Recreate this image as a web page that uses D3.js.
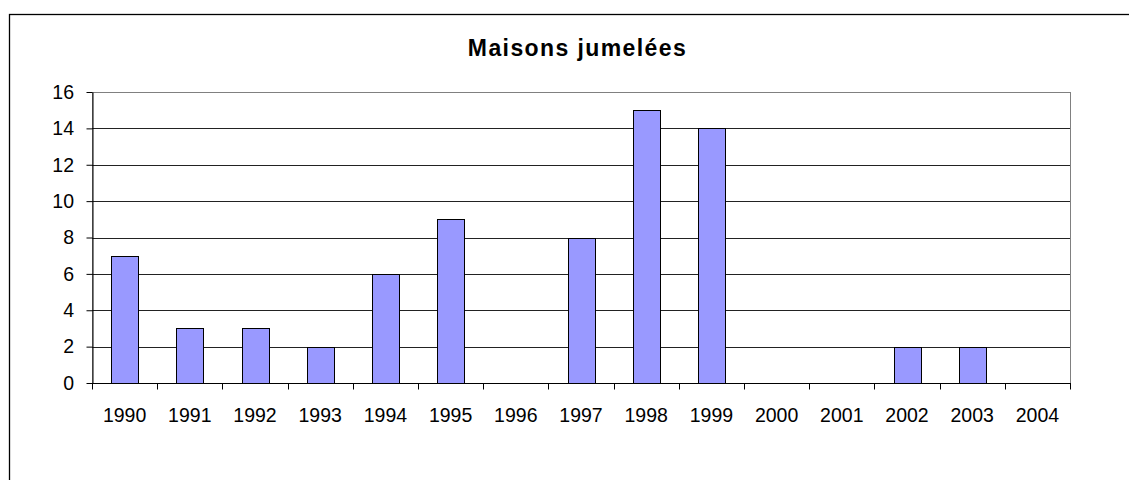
<!DOCTYPE html>
<html>
<head>
<meta charset="utf-8">
<script src="https://cdn.jsdelivr.net/npm/d3@7"></script>
<style>
  body { margin: 0; background: #fff; }
  svg { display: block; font-family: "Liberation Sans", Arial, sans-serif; }
</style>
</head>
<body>
<div class="chart"></div>
<script>
var years = ["1990", "1991", "1992", "1993", "1994", "1995", "1996", "1997",
    "1998", "1999", "2000", "2001", "2002", "2003", "2004"];
var counts = [7, 3, 3, 2, 6, 9, 0, 8, 15, 14, 0, 0, 2, 2, 0];
var yTicks = [0, 2, 4, 6, 8, 10, 12, 14, 16];
var title = "Maisons jumelées";

function drawChart() {
    var margin = { top: 92, right: 59, bottom: 97, left: 92 },
        width = 1129 - margin.left - margin.right,
        height = 480 - margin.top - margin.bottom;

    var svg = d3.select(".chart").append("svg")
        .attr("width", 1129)
        .attr("height", 480);

    // outer frame (runs off the right and bottom edges)
    svg.append("rect")
        .attr("x", 9.5)
        .attr("y", 14.5)
        .attr("width", 1200)
        .attr("height", 600)
        .attr("fill", "none")
        .attr("stroke", "#000")
        .attr("stroke-width", 1.3);

    svg.append("text")
        .attr("x", 577.5)
        .attr("y", 56)
        .attr("text-anchor", "middle")
        .style("font-size", "23px")
        .style("font-weight", "bold")
        .style("letter-spacing", "1.4px")
        .text(title);

    var g = svg.append("g")
        .attr("transform", "translate(" + margin.left + "," + margin.top + ")");

    var x = d3.scaleBand()
        .domain(years)
        .range([0, width])
        .padding(0);

    var y = d3.scaleLinear()
        .domain([0, 16])
        .range([height, 0]);

    // plot border (top/right in gray)
    g.append("rect")
        .attr("x", 0.5)
        .attr("y", 0.5)
        .attr("width", width)
        .attr("height", height)
        .attr("fill", "none")
        .attr("stroke", "#808080");

    // gridlines
    g.selectAll(".grid")
        .data(yTicks.filter(function (d) { return d > 0 && d < 16; }))
        .enter().append("line")
        .attr("class", "grid")
        .attr("x1", 0)
        .attr("x2", width)
        .attr("y1", function (d) { return Math.round(y(d)) + 0.5; })
        .attr("y2", function (d) { return Math.round(y(d)) + 0.5; })
        .attr("stroke", "#222")
        .attr("stroke-width", 1);

    var barW = Math.round(x.bandwidth() * 0.42);

    g.selectAll(".bar")
        .data(counts)
        .enter().append("rect")
        .attr("class", "bar")
        .attr("x", function (d, i) { return Math.round(x(years[i]) + (x.bandwidth() - barW) / 2) + 0.5; })
        .attr("y", function (d) { return Math.round(y(d)) + 0.5; })
        .attr("width", barW)
        .attr("height", function (d) { return Math.round(y(0)) - Math.round(y(d)); })
        .attr("fill", "#9999ff")
        .attr("stroke", "#000")
        .attr("stroke-width", 1)
        .style("display", function (d) { return d > 0 ? null : "none"; });

    // y axis
    var yAxis = d3.axisLeft(y)
        .tickValues(yTicks)
        .tickSize(6)
        .tickPadding(12.5)
        .tickSizeOuter(0);

    var ya = g.append("g")
        .attr("transform", "translate(0.5,0)")
        .call(yAxis);
    ya.select(".domain").attr("stroke", "#000");
    ya.selectAll("line").attr("stroke", "#000");
    ya.selectAll("text")
        .style("font-size", "19.5px")
        .attr("fill", "#000");

    // x axis: ticks at category boundaries
    var xa = g.append("g")
        .attr("transform", "translate(0," + (Math.round(y(0)) + 0.5) + ")");
    xa.append("line")
        .attr("x1", 0)
        .attr("x2", width + 1)
        .attr("stroke", "#000");
    xa.selectAll(".xtick")
        .data(years.concat(["end"]))
        .enter().append("line")
        .attr("class", "xtick")
        .attr("x1", function (d, i) { return Math.round(i * x.step()) + 0.5; })
        .attr("x2", function (d, i) { return Math.round(i * x.step()) + 0.5; })
        .attr("y1", 0)
        .attr("y2", 6)
        .attr("stroke", "#000");
    xa.selectAll(".xlabel")
        .data(years)
        .enter().append("text")
        .attr("class", "xlabel")
        .attr("x", function (d) { return x(d) + x.bandwidth() / 2; })
        .attr("y", 38)
        .attr("text-anchor", "middle")
        .style("font-size", "19.5px")
        .text(function (d) { return d; });
}

document.addEventListener("DOMContentLoaded", drawChart);
</script>
</body>
</html>
